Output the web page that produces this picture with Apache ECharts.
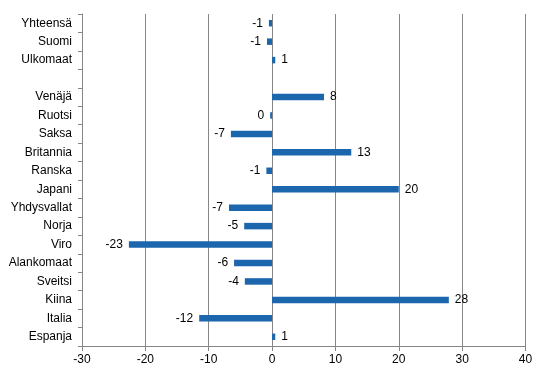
<!DOCTYPE html>
<html>
<head>
<meta charset="utf-8">
<script src="https://cdn.jsdelivr.net/npm/echarts@6/dist/echarts.min.js"></script>
<style>html,body{margin:0;padding:0;background:#fff;}#c{width:546px;height:376px;}</style>
</head>
<body>
<div id="c"></div>
<script>
var categories = ['Yhteensä','Suomi','Ulkomaat','','Venäjä','Ruotsi','Saksa','Britannia','Ranska','Japani','Yhdysvallat','Norja','Viro','Alankomaat','Sveitsi','Kiina','Italia','Espanja'];
var values = [-0.5, -0.8, 0.5, null, 8.2, -0.3, -6.5, 12.5, -0.9, 20.0, -6.8, -4.4, -22.6, -6.0, -4.3, 27.9, -11.5, 0.5];
var valueLabels = ['-1','-1','1','','8','0','-7','13','-1','20','-7','-5','-23','-6','-4','28','-12','1'];
var xTicks = [-30, -20, -10, 0, 10, 20, 30, 40];

var chart = echarts.init(document.getElementById('c'), null, {renderer: 'canvas'});
var font = 'Arial, "Liberation Sans", sans-serif';
chart.setOption({
  animation: false,
  grid: {left: 82, right: 20.5, top: 14, bottom: 30},
  xAxis: {
    type: 'value', min: xTicks[0], max: xTicks[xTicks.length - 1], interval: 10,
    axisLine: {show: true, onZero: false, lineStyle: {color: '#868686', width: 1}},
    axisTick: {show: true, length: 5, lineStyle: {color: '#868686'}},
    axisLabel: {color: '#000', fontSize: 12, fontFamily: font, margin: 8},
    splitLine: {show: true, lineStyle: {color: '#868686', width: 1}}
  },
  yAxis: [{
    type: 'category', data: categories, inverse: true,
    axisLine: {show: false}, axisTick: {show: false},
    axisLabel: {color: '#000', fontSize: 12, fontFamily: font, margin: 10}
  }, {
    type: 'category', data: categories, inverse: true, position: 'left',
    axisLine: {show: true, onZero: true, lineStyle: {color: '#868686', width: 1}},
    axisTick: {show: true, length: 4, lineStyle: {color: '#868686'}},
    axisLabel: {show: false}
  }],
  series: [{
    type: 'bar', yAxisIndex: 0, data: values, barWidth: 6.5,
    itemStyle: {color: '#1c66ae'},
    label: {
      show: true, position: 'right', distance: 6, color: '#000', fontSize: 12, fontFamily: font,
      formatter: function (p) { return valueLabels[p.dataIndex]; }
    },
    labelLayout: null
  }]
});
// negative labels to left
var opt = chart.getOption();
var data = values.map(function (v, i) {
  return {value: v, label: {position: (v !== null && v < 0) || i === 5 ? 'left' : 'right'}};
});
chart.setOption({series: [{data: data}]});
</script>
</body>
</html>
